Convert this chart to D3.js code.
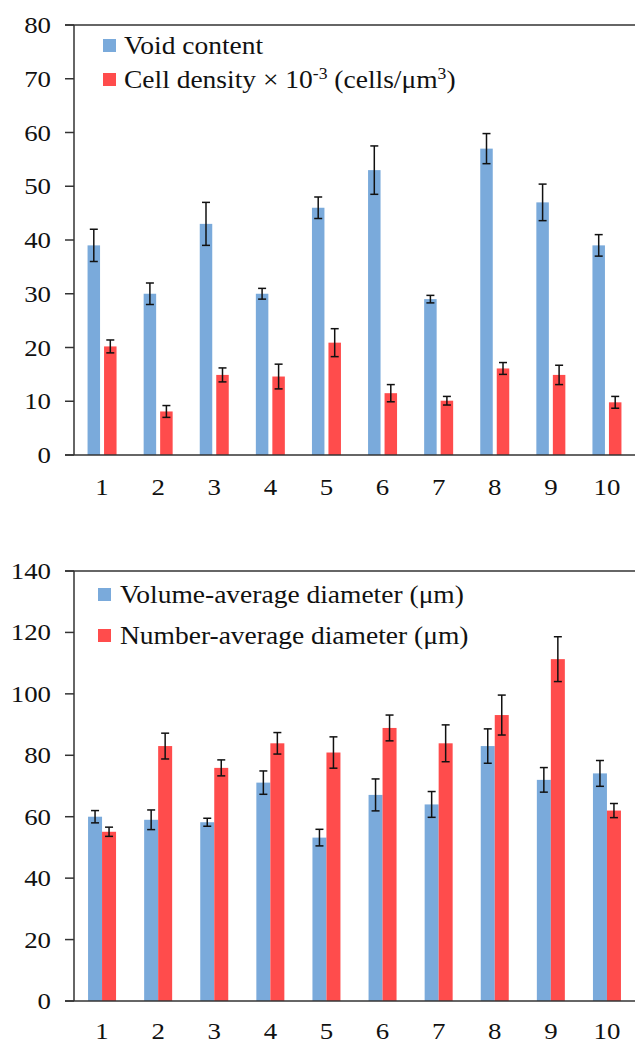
<!DOCTYPE html>
<html>
<head>
<meta charset="utf-8">
<script src="https://cdn.jsdelivr.net/npm/d3@7/dist/d3.min.js"></script>
<style>
  html, body { margin: 0; padding: 0; background: #fff; }
  svg { display: block; }
  text { font-family: "Liberation Serif", "Times New Roman", serif; fill: #111; }
</style>
</head>
<body>
<svg id="chart" width="635" height="1044"></svg>
<script>
// ---- data ----
const categories = ["1","2","3","4","5","6","7","8","9","10"];

const voidContent = [39, 30, 43, 30, 46, 53, 29, 57, 47, 39];
const voidErr     = [3, 2, 4, 1, 2, 4.5, 0.7, 2.8, 3.4, 2];
const cellDensity = [20.2, 8.1, 14.9, 14.6, 20.9, 11.5, 10.1, 16.1, 14.9, 9.8];
const cellErr     = [1.2, 1.1, 1.3, 2.3, 2.6, 1.6, 0.8, 1.1, 1.8, 1.1];

const volDiam = [60, 59, 58.2, 71.1, 53.2, 67.1, 64, 83, 72, 74.1];
const volErr  = [2, 3.2, 1.3, 3.8, 2.7, 5.2, 4.2, 5.6, 4, 4.2];
const numDiam = [55.1, 83, 75.9, 83.9, 80.9, 88.9, 83.9, 93.1, 111.3, 62];
const numErr  = [1.5, 4.2, 2.6, 3.5, 5.1, 4.2, 6, 6.5, 7.3, 2.3];

const ticksTop    = [0, 10, 20, 30, 40, 50, 60, 70, 80];
const ticksBottom = [0, 20, 40, 60, 80, 100, 120, 140];

const BLUE = "#7aaadb";
const RED  = "#ff4c4c";

const svg = d3.select("#chart");
const SX_T = 1.12; // horizontal stretch of tick text
const SX_L = 1.1;  // horizontal stretch of legend text

function drawPanel(cfg) {
  const g = svg.append("g");
  const x = d3.scaleBand().domain(categories).range([74, 635]).padding(0);
  const y = d3.scaleLinear().domain([0, cfg.max]).range([cfg.y0, cfg.y1]);

  const series = [
    {vals: cfg.s1, err: cfg.e1, color: BLUE, off: cfg.off1},
    {vals: cfg.s2, err: cfg.e2, color: RED,  off: cfg.off2}
  ];
  series.forEach(s => {
    g.selectAll(null).data(categories).enter().append("rect")
      .attr("x", (c) => x(c) + x.bandwidth() / 2 + s.off)
      .attr("width", cfg.bw)
      .attr("y", (c, i) => y(s.vals[i]))
      .attr("height", (c, i) => y(0) - y(s.vals[i]))
      .attr("fill", s.color);
  });
  series.forEach(s => {
    categories.forEach((c, i) => {
      const cx = x(c) + x.bandwidth() / 2 + s.off + cfg.bw / 2;
      const hi = y(s.vals[i] + s.err[i]), lo = y(s.vals[i] - s.err[i]);
      g.append("line").attr("x1", cx).attr("x2", cx).attr("y1", hi).attr("y2", lo)
        .attr("stroke", "#111").attr("stroke-width", 1.5);
      [hi, lo].forEach(yy => g.append("line")
        .attr("x1", cx - 4).attr("x2", cx + 4).attr("y1", yy).attr("y2", yy)
        .attr("stroke", "#111").attr("stroke-width", 1.5));
    });
  });

  const axisColor = "#333";
  g.append("line").attr("x1", 74).attr("x2", 74).attr("y1", y(cfg.max)).attr("y2", y(0))
    .attr("stroke", axisColor).attr("stroke-width", 1.5);
  g.append("line").attr("x1", 65).attr("x2", 635).attr("y1", y(0)).attr("y2", y(0))
    .attr("stroke", axisColor).attr("stroke-width", 1.5);
  g.append("line").attr("x1", 65).attr("x2", 635).attr("y1", y(cfg.max)).attr("y2", y(cfg.max))
    .attr("stroke", axisColor).attr("stroke-width", 1.5);
  cfg.ticks.forEach(t => {
    g.append("line").attr("x1", 65).attr("x2", 74).attr("y1", y(t)).attr("y2", y(t))
      .attr("stroke", axisColor).attr("stroke-width", 1.5);
    g.append("text")
      .attr("transform", `translate(51,${y(t) + 8}) scale(${SX_T},1)`)
      .attr("text-anchor", "end").attr("font-size", 24).text(t);
  });
  categories.forEach(c => {
    g.append("text")
      .attr("transform", `translate(${x(c) + x.bandwidth() / 2},${y(0) + cfg.xlab}) scale(${SX_T},1)`)
      .attr("text-anchor", "middle").attr("font-size", 24).text(c);
  });

  cfg.legend.forEach((L, i) => {
    g.append("rect").attr("x", L.sx).attr("y", L.base - 15).attr("width", 13).attr("height", 13)
      .attr("fill", i === 0 ? BLUE : RED);
    const t = g.append("text")
      .attr("transform", `translate(${L.tx},${L.base}) scale(${SX_L},1)`)
      .attr("font-size", 25);
    L.parts.forEach(p => {
      const ts = t.append("tspan").text(p.t);
      if (p.sup) ts.attr("baseline-shift", "super").attr("font-size", 16);
    });
  });
}

drawPanel({
  max: 80, y0: 455, y1: 25, ticks: ticksTop, xlab: 40,
  s1: voidContent, e1: voidErr, s2: cellDensity, e2: cellErr,
  bw: 12.5, off1: -14.5, off2: 2,
  legend: [
    {sx: 103, tx: 124, base: 54, parts: [{t: "Void content"}]},
    {sx: 103, tx: 124, base: 88, parts: [
      {t: "Cell density \u00d7 10"}, {t: "-3", sup: true}, {t: " (cells/\u03bcm"}, {t: "3", sup: true}, {t: ")"}
    ]}
  ]
});

drawPanel({
  max: 140, y0: 1001, y1: 571, ticks: ticksBottom, xlab: 38,
  s1: volDiam, e1: volErr, s2: numDiam, e2: numErr,
  bw: 14, off1: -14, off2: 0,
  legend: [
    {sx: 98, tx: 120, base: 603, parts: [{t: "Volume-average diameter (\u03bcm)"}]},
    {sx: 98, tx: 120, base: 644, parts: [{t: "Number-average diameter (\u03bcm)"}]}
  ]
});
</script>
</body>
</html>
